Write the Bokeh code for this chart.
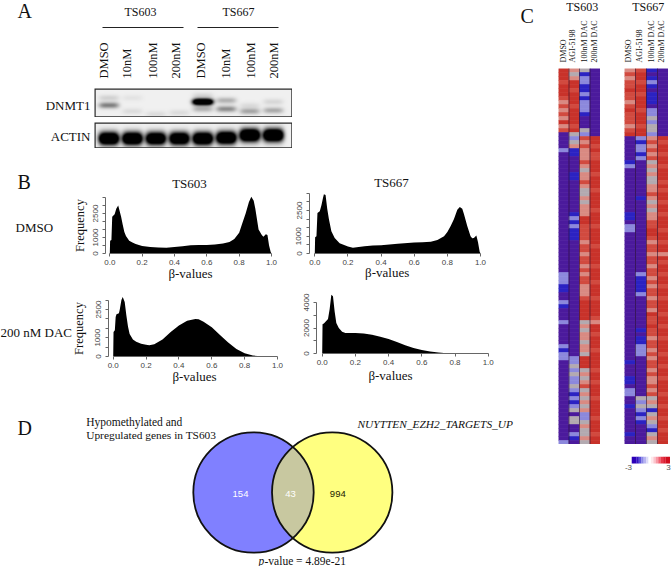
import numpy as np
from bokeh.core.properties import value
from bokeh.embed import file_html
from bokeh.models import FixedTicker, LinearColorMapper, Range1d
from bokeh.plotting import figure
from bokeh.resources import INLINE
from bokeh.transform import linear_cmap

# ---------- panel B: beta-value histograms ----------
h1_x = [0, .002, .01, .015, .03, .04, .052, .07, .08, .09, .1, .12, .14, .16, .2, .25, .3, .35, .4, .45, .5, .55, .6, .65, .7, .74, .77, .8, .82, .84, .86, .875, .89, .9, .92, .94, .95, .965, .975, .985, .995, 1]
h1_y = [0, 800, 850, 2300, 2450, 2800, 3000, 2300, 1800, 1350, 1100, 800, 680, 600, 470, 400, 370, 360, 400, 450, 510, 530, 530, 560, 620, 720, 900, 1300, 1900, 2500, 3200, 3550, 3300, 2800, 1500, 1150, 1050, 1200, 1150, 500, 100, 0]
h2_x = [0, .002, .01, .016, .03, .04, .05, .055, .065, .075, .085, .1, .12, .15, .2, .23, .3, .35, .4, .5, .6, .65, .7, .74, .78, .8, .82, .84, .86, .875, .89, .9, .92, .94, .95, .96, .975, .985, .995, 1]
h2_y = [0, 950, 1000, 2350, 2450, 2800, 3250, 3450, 3400, 2600, 2000, 1300, 900, 600, 400, 340, 420, 470, 480, 570, 640, 660, 680, 780, 1000, 1250, 1600, 2000, 2550, 2700, 2600, 2300, 1600, 1000, 880, 900, 1050, 650, 100, 0]
h3_x = [0, .002, .01, .015, .02, .035, .04, .05, .058, .07, .08, .09, .1, .12, .14, .17, .2, .22, .25, .3, .35, .4, .45, .5, .52, .55, .6, .65, .7, .75, .8, .85, .9, 1]
h3_y = [0, 1300, 1400, 2100, 2250, 2300, 2500, 3000, 3160, 2900, 2200, 1600, 1200, 900, 780, 680, 620, 600, 650, 900, 1300, 1650, 1900, 2000, 1980, 1850, 1550, 1150, 750, 400, 170, 50, 15, 0]
h4_x = [0, .002, .01, .02, .035, .045, .055, .065, .075, .085, .1, .12, .14, .2, .25, .3, .35, .4, .45, .5, .55, .6, .65, .7, .75, .8, 1]
h4_y = [0, 2300, 2350, 2500, 2700, 3500, 4600, 4500, 3300, 2400, 2000, 1700, 1600, 1600, 1570, 1480, 1320, 1130, 900, 650, 430, 280, 150, 70, 20, 5, 0]
x_ticks = [0, .2, .4, .6, .8, 1]
y_ticks_35 = [0, 500, 1000, 1500, 2000, 2500, 3000, 3500]
y_ticks_30 = [0, 500, 1000, 1500, 2000, 2500, 3000]
y_ticks_40 = [0, 1000, 2000, 3000, 4000]
y_labels_a = {0: "0", 1000: "1000", 2500: "2500"}
y_labels_b = {0: "0", 2000: "2000", 4000: "4000"}

# ---------- panel C: heat map rows ----------
m1_dmso = [3, 3, 3, 2, 3, 3, 3, 2, 1, 2, 1, 2, 1, 3, 1, 2] + [-3] * 4 + [-1] + [-3] * 30 + [-1, -1, -1, -2, -2, -3, -3, -1, -2, -3, -3, -3, -1] + [-3] * 5 + [-1, -2, -1, -1] + [-3] * 20 + [-1]
m1_agi = [1, 0, 1, 3, 3, 2, 3, 3, 3, 2, 3, 3, 3, 3, 2, 3, 0, -1, 0, 1, -2, -2, -3, -3, -3, -3, -2, -2] + [-3] * 8 + [-2, -1, -2, -1, -2, -2, -2] + [-3] * 29 + [-1, -1, 0, -1, 0, -1, -1, 0, -1, -2, -1, -2, -1, 0, -3, 0, 0, -3, -3, -1, -2, -3]
m1_100 = [0, -2, -1, -1, -2, -2, -1, -2, -1, -1, -1, -2, -3, -3, -3, 0, -1, 2, 1, 2, 1, 1, 1, 2, 1, 0, 1, 1, 2, 1, 0, 0, 1, 0, 1, 1, 1, 3, 3, 2, 2, 2, 2, 1, 2, 2, 1, 2, 2, 1, 2, 1, 2, 2, 1, 1, 1, 2, 3, 3, 3, 3, 3, 0, 1, 0, 1, 1, 0, 1, 1, 0, 3, 3, 3, 0, 1, 0, 1, 2, 0, 1, 0, 1, 0, 1, -1, -1, 0, 1, 0, 0, 1, 0]
m1_200 = [-3] * 17 + [3, 3, 2, 3, 2, 2, 3, 3, 3, 2, 3, 3, 3, 2, 3, 3, 3, 3, 2, 3, 3, 3, 2, 3, 3, 3, 3, 2, 3, 3, 3, 3, 2, 3, 3, 3, 2, 3, 3, 3, 2, 3, 3, 3, 3, 2, 1, 3, 3, 2, 3, 3, 3, 2, 3, 3, 3, 3, 2, 3, 3, 2, 3, 3, 3, 2, 3, 3, 3, 3, 2, 3, 3, 3, 2, 3, 3]
m2_dmso = [1, 2, 1, 2, 2, 3, 2, 2, 1, 2, 3, 2, 2, 2, 1, 2, 3] + [-3] * 6 + [-2, -1] + [-3] * 11 + [-2, -2, -3, -1, -1] + [-3] * 32 + [-2, -3, -3, -3, -2, -2, -3, -1, -1, -3, -3, -2] + [-3] * 6 + [-2, -3, -3]
m2_agi = [2, 3, 3, 2, 3, 3, 2, 3, 3, 3, 2, 3, 3, 3, 2, 3, 3, -1, -2, -1, -1, -2, -1] + [-3] * 9 + [-2] + [-3] * 18 + [-1, -2, -2, -2, -2, -1] + [-3] * 8 + [-2, -3, -2, -2, -1, -1, -1] + [-3] * 10 + [0, -1, 0, -1, -2, -1, -2] + [-3] * 5
m2_100 = [-2, -3, -2, -1, -2, -3, -2, -2, -2, -3, -1, -1, 0, -1, 0, 0, -1, 1, 2, 1, 2, 1, 2, 0, 1, 0, 1, 0, 0, 1, 1, 2, 1, 0, 1, 0, 1, 1, 2, 2, 3, 3, 2, 1, 2, 2, 1, 2, 2, 1, 2, 2, 1, 2, 1, 2, 2, 1, 2, 2, 1, 3, 2, 2, 3, 2, 2, 1, 2, 2, 1, 2, 1, 2, 2, 1, 2, 1, 1, 2, 1, 2, 0, 1, 0, -2, 0, 1, 0, -1, -2, 0, 1, 0]
m2_200 = [-3] * 17 + [3, 2, 3, 3, 2, 3, 3, 2, 3, 3, 3, 2, 3, 2, 3, 3, 2, 3, 3, 2, 3, 3, 3, 2, 3, 3, 2, 3, 3, 1, 3, 2, 3, 3, 2, 3, 3, 2, 3, 3, 2, 3, 3, 3, 2, 3, 3, 2, 3, 3, 2, 3, 3, 3, 2, 3, 3, 2, 3, 3, 2, 3, 3, 3, 2, 3, 3, 2, 3, 3, 2, 3, 3, 2, 3, 3, 3]
heat_palette = ["#4b1a9c", "#2b22c2", "#8c88dc", "#b3aab0", "#d98a82", "#d14a3f", "#c8322a"]
bar_values = [-3, -2.6, -2.2, -1.8, -1.4, -1, -.6, -.2, .2, .6, 1, 1.4, 1.8, 2.2, 2.6, 3]
bar_colors = ["#2c00b8", "#2c00b8", "#3414c4", "#5850d8", "#8c88e8", "#b8b4f0", "#dcdaf8", "#ffffff", "#ffe8ec", "#fbc4cc", "#f898a4", "#f06070", "#e83848", "#dc1c30", "#d00c1c", "#d00c1c"]

# ---------- panel A: western blot lanes (lane, height in strip, strength) ----------
lanes = ["DMSO", "10nM", "100nM", "200nM", "DMSO", "10nM", "100nM", "200nM"]
dnmt1_lane = [0, 0, 1, 1, 2, 3, 4, 4, 4, 5, 5, 6, 6, 7, 7]
dnmt1_pos = [.59, .33, .8, .33, .9, .85, .47, .72, .25, .42, .72, .8, .6, .77, .47]
dnmt1_str = [.45, .12, .08, .05, .08, .08, 1.9, .25, .1, .25, .4, .3, .08, .28, .1]
actin_lane = [0, 1, 2, 3, 4, 5, 6, 7]
actin_pos = [.63, .63, .63, .63, .63, .6, .5, .5]
actin_str = [1.8, 1.8, 1.7, 1.7, 1.8, 1.8, 1.9, 1.9]

# ---------- panel D ----------
venn_counts = ["154", "43", "994"]

NO_BORDER = dict(min_border=0, min_border_left=0, min_border_right=0, min_border_top=0, min_border_bottom=0)


def strip(fig_left, fig_top, w, h, b_lane, b_pos, b_str, sy):
    lane_px, lane0 = 23.6, 108.0
    fig = figure(width=w, height=h, toolbar_location=None, output_backend="svg", **NO_BORDER,
                 x_range=Range1d((fig_left - lane0) / lane_px, (fig_left + w - lane0) / lane_px),
                 y_range=Range1d(0, 1), x_axis_location=None, y_axis_location=None,
                 background_fill_color=None, border_fill_color=None, outline_line_color=None)
    fig.grid.visible = False
    xs = np.linspace(fig.x_range.start, fig.x_range.end, w)
    from_top = np.linspace(0, 1, h * 2)
    gx, gy = np.meshgrid(xs, from_top)
    dark = np.full(gx.shape, .06)
    for la, po, st in zip(b_lane, b_pos, b_str):
        dark += st * np.exp(-((gx - la) / .36) ** 4 / 2 - ((gy - po) / sy) ** 2 / 2)
    dark = np.clip(dark, 0, 1)[::-1]
    grays = ["#%02x%02x%02x" % (v, v, v) for v in range(0, 256)]
    fig.image(image=[dark], x=fig.x_range.start, y=0, dw=fig.x_range.end - fig.x_range.start, dh=1,
              color_mapper=LinearColorMapper(palette=grays[::-1], low=0, high=1))
    fig.quad(left=[fig.x_range.start], right=[fig.x_range.end], bottom=[0], top=[1],
             fill_color=None, line_color="#2a2a2a", line_width=2.4)
    fig.styles = {"position": "absolute", "left": f"{fig_left}px", "top": f"{fig_top}px"}
    return fig


def hist(xv, yv, ax_x, zero_x, one_x, zero_y, tick_px, tick_step, ticks, labels):
    L, B, T, R = 45, 32, 4, 6
    frame_h = 70
    frame_l, frame_r = round(ax_x), round(one_x) + 3
    yscale = tick_px / tick_step
    sx = one_x - zero_x
    fig = figure(width=L + frame_r - frame_l + R, height=T + frame_h + B, toolbar_location=None,
                 output_backend="svg", min_border_left=L, min_border_right=R, min_border_top=T,
                 min_border_bottom=B, outline_line_color=None,
                 x_range=Range1d((frame_l - zero_x) / sx, (frame_r - zero_x) / sx),
                 y_range=Range1d(0, frame_h / yscale),
                 background_fill_color=None, border_fill_color=None)
    fig.grid.visible = False
    fig.varea(x=xv, y1=[0] * len(xv), y2=yv, fill_color="#000000")
    for ax in (fig.xaxis[0], fig.yaxis[0]):
        ax.axis_line_color = "#666666"
        ax.major_tick_line_color = "#666666"
        ax.minor_tick_line_color = None
        ax.major_tick_in = 0
        ax.major_tick_out = 3
        ax.major_label_text_font = "Liberation Sans"
        ax.major_label_text_font_size = "8px"
        ax.major_label_text_color = "#444444"
    fig.xaxis[0].ticker = FixedTicker(ticks=x_ticks)
    fig.xaxis[0].major_label_overrides = {t: f"{t:.1f}" for t in x_ticks}
    fig.xaxis[0].bounds = (0, 1)
    fig.xaxis[0].major_label_standoff = 3
    fig.yaxis[0].ticker = FixedTicker(ticks=ticks)
    fig.yaxis[0].major_label_overrides = {t: labels.get(t, "") for t in ticks}
    fig.yaxis[0].bounds = (0, ticks[-1])
    fig.yaxis[0].major_label_orientation = "vertical"
    fig.yaxis[0].major_label_standoff = 5
    fig.styles = {"position": "absolute", "left": f"{frame_l - L}px",
                  "top": f"{round(zero_y) - frame_h - T}px"}
    return fig


def heat(left, top, w, h, cols):
    fig = figure(width=w, height=h, toolbar_location=None, output_backend="svg", **NO_BORDER,
                 x_range=Range1d(0, len(cols)), y_range=Range1d(len(cols[0]), 0),
                 x_axis_location=None, y_axis_location=None, outline_line_color=None,
                 background_fill_color=None, border_fill_color=None)
    fig.grid.visible = False
    xs, ys, vs = [], [], []
    for c, col in enumerate(cols):
        for r, v in enumerate(col):
            xs.append(c + .5)
            ys.append(r + .5)
            vs.append(v)
    cmap = linear_cmap("v", heat_palette, -3.5, 3.5)
    fig.rect(x="x", y="y", width=1, height=1, line_color=cmap, line_width=.6, fill_color=cmap,
             source=dict(x=xs, y=ys, v=vs))
    fig.segment(x0=list(range(1, len(cols))), x1=list(range(1, len(cols))), y0=[0] * (len(cols) - 1),
                y1=[len(cols[0])] * (len(cols) - 1), line_color="#2a1030", line_alpha=.6, line_width=1)
    fig.styles = {"position": "absolute", "left": f"{left}px", "top": f"{top}px"}
    return fig


# page-sized background figure for the lettering and the Venn diagram (coordinates in page pixels)
bg = figure(width=672, height=566, toolbar_location=None, output_backend="svg", **NO_BORDER,
            x_range=Range1d(0, 672), y_range=Range1d(566, 0), x_axis_location=None, y_axis_location=None,
            outline_line_color=None, background_fill_color=None, border_fill_color=None)
bg.grid.visible = False
bg.styles = {"position": "absolute", "left": "0px", "top": "0px"}


def label(x, y, text, size, font="Liberation Serif", align="left", angle=0, color="#111111", style="normal"):
    bg.text(x=[x], y=[y], text=[text], text_font=value(font), text_font_size=f"{size}px",
            text_align=align, text_baseline="middle", angle=angle, text_color=color, text_font_style=style)


for x, y, t in [(17, 10, "A"), (17, 181, "B"), (520, 15, "C"), (17, 427, "D")]:
    label(x, y, t, 20)
for x, t in [(140, "TS603"), (238, "TS667")]:
    label(x, 11.5, t, 12, align="center")
bg.segment(x0=[102, 197], x1=[183, 278], y0=[27, 27], y1=[27, 27], line_color="#222222", line_width=1)
for x, t in zip([103, 126, 152, 175, 200, 225, 250, 273], lanes):
    label(x, 78, t, 12.5, angle=np.pi / 2)
label(90, 105, "DNMT1", 13, align="right")
label(90, 136, "ACTIN", 13, align="right")
label(189, 183, "TS603", 13, align="center")
label(391, 182, "TS667", 13, align="center")
label(15, 227, "DMSO", 13)
label(0, 332, "200 nM DAC", 13)
label(79, 225, "Frequency", 12.5, align="center", angle=np.pi / 2)
label(78.5, 328, "Frequency", 12.5, align="center", angle=np.pi / 2)
for x, y in [(190, 273), (386.7, 272), (194, 375.7), (390, 375)]:
    label(x, y, "β-values", 13, align="center")

# panel C lettering
label(581.7, 6, "TS603", 12, align="center")
label(647.7, 6, "TS667", 12, align="center")
for x, t in zip([562.7, 571.7, 584, 594, 628, 639, 650.7, 661.3],
                ["DMSO", "AGI-5198", "100nM DAC", "200nM DAC"] * 2):
    label(x, 62, t, 8, angle=np.pi / 2)
label(628, 467, "-3", 8, font="Liberation Sans", align="center", color="#555555")
label(668, 467, "3", 8, font="Liberation Sans", align="center", color="#555555")

# Venn diagram
cx1, cx2, cy, rad = 253.0, 331.7, 492.0, 60.2
bg.circle(x=[cx1], y=[cy], radius=rad, fill_color="#8080ff", line_color=None)
bg.circle(x=[cx2], y=[cy], radius=rad, fill_color="#ffff80", line_color=None)
half = np.arccos((cx2 - cx1) / 2 / rad)
t1 = np.linspace(-half, half, 60)
t2 = np.linspace(np.pi - half, np.pi + half, 60)
bg.patch(x=np.r_[cx1 + rad * np.cos(t1), cx2 + rad * np.cos(t2)],
         y=np.r_[cy + rad * np.sin(t1), cy + rad * np.sin(t2)], fill_color="#c8c8a0", line_color=None)
bg.circle(x=[cx1, cx2], y=[cy, cy], radius=rad, fill_color=None, line_color="#111111", line_width=1.8)
for x, t, c in zip([240, 290, 337.3], venn_counts, ["#ffffff", "#ffffff", "#222200"]):
    label(x, 493.7, t, 9.5, font="Liberation Sans", align="center", color=c)
label(85.7, 421, "Hypomethylated and", 11.5)
label(85.7, 434.3, "Upregulated genes in TS603", 11.4)
label(357, 423, "NUYTTEN_EZH2_TARGETS_UP", 11.4, style="italic")
label(258, 560, "p", 11.5, style="italic")
label(264, 560, "-value = 4.89e-21", 11.5)

figs = [bg,
        strip(94, 88, 198, 29, dnmt1_lane, dnmt1_pos, dnmt1_str, .075),
        strip(94, 122, 198, 26, actin_lane, actin_pos, actin_str, .17),
        hist(h1_x, h1_y, 104.7, 109.3, 271, 252.7, 8, 500, y_ticks_35, y_labels_a),
        hist(h2_x, h2_y, 309.3, 314.3, 480, 253.3, 8.6, 500, y_ticks_35, y_labels_a),
        hist(h3_x, h3_y, 107.7, 112.7, 277, 355.7, 9.4, 500, y_ticks_30, y_labels_a),
        hist(h4_x, h4_y, 316, 321.7, 487.7, 353, 12.75, 1000, y_ticks_40, y_labels_b),
        heat(558, 68, 42, 376, [m1_dmso, m1_agi, m1_100, m1_200]),
        heat(624, 68, 44, 376, [m2_dmso, m2_agi, m2_100, m2_200])]

# colour key: the frame is taller than the 7px bar so that Bokeh keeps its full height
cb = figure(width=39, height=21, toolbar_location=None, output_backend="svg", **NO_BORDER,
            x_range=Range1d(-3.2, 3.2), y_range=Range1d(-2, 1), x_axis_location=None, y_axis_location=None,
            outline_line_color=None, background_fill_color=None, border_fill_color=None)
cb.grid.visible = False
cb.rect(x=bar_values, y=[.5] * len(bar_values), width=.42, height=1, fill_color=bar_colors, line_color=None)
cb.styles = {"position": "absolute", "left": "631px", "top": "456px"}
figs.append(cb)

open("out.html", "w").write(file_html(figs, INLINE))
